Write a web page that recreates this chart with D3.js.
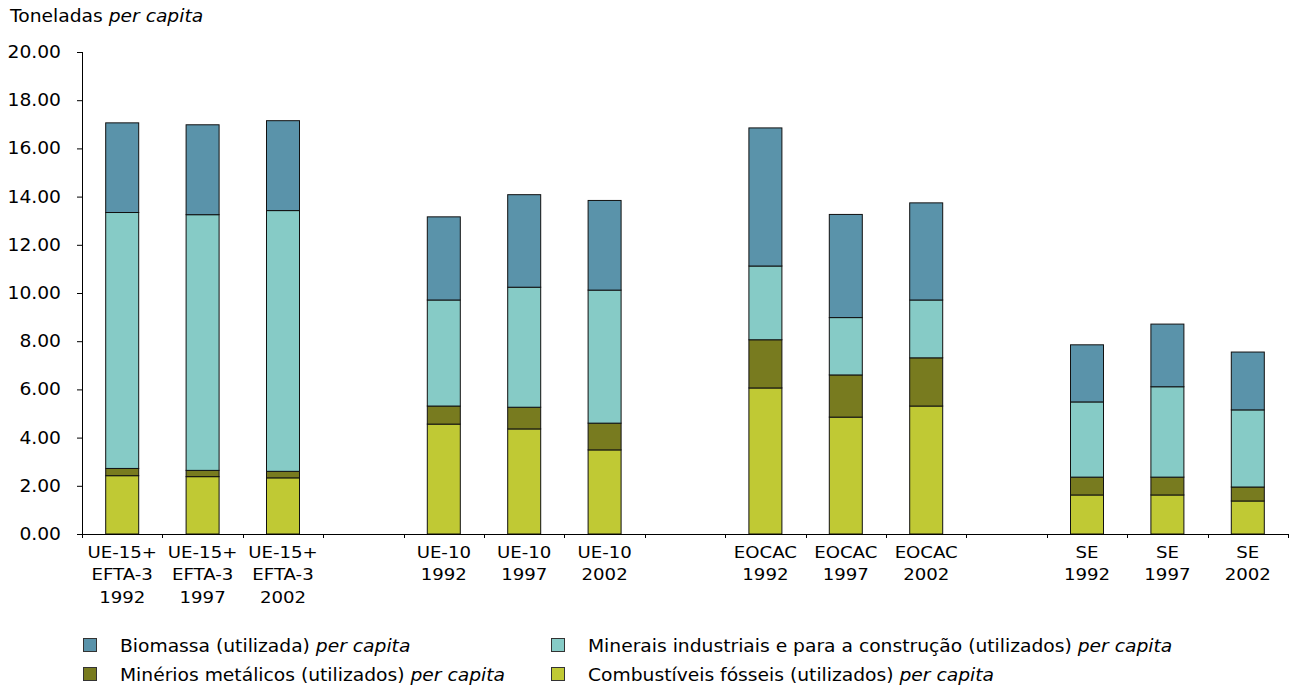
<!DOCTYPE html>
<html>
<head>
<meta charset="utf-8">
<script src="https://cdn.jsdelivr.net/npm/d3@7"></script>
<style>
  body { margin: 0; background: #fff; }
  svg text { font-family: "DejaVu Sans", Verdana, sans-serif; fill: #000; }
</style>
</head>
<body>
<svg id="chart" width="1293" height="690"></svg>
<script>
// Slots along the x axis; empty strings are spacer slots between regions
const categories = [
  "UE-15+|EFTA-3|1992", "UE-15+|EFTA-3|1997", "UE-15+|EFTA-3|2002", "",
  "UE-10|1992", "UE-10|1997", "UE-10|2002", "",
  "EOCAC|1992", "EOCAC|1997", "EOCAC|2002", "",
  "SE|1992", "SE|1997", "SE|2002"
];

// Tonnes per capita, one value per slot (null = spacer)
const fossil   = [2.42, 2.38, 2.33, null, 4.56, 4.36, 3.49, null, 6.06, 4.85, 5.31, null, 1.62, 1.62, 1.37];
const metal    = [0.30, 0.26, 0.27, null, 0.75, 0.90, 1.11, null, 2.00, 1.75, 2.00, null, 0.74, 0.74, 0.58];
const minerals = [10.62, 10.61, 10.82, null, 4.40, 4.98, 5.52, null, 3.06, 2.38, 2.40, null, 3.12, 3.75, 3.20];
const biomass  = [3.72, 3.73, 3.73, null, 3.45, 3.84, 3.72, null, 5.73, 4.28, 4.03, null, 2.37, 2.60, 2.40];

const yTicks = [0, 2, 4, 6, 8, 10, 12, 14, 16, 18, 20];

const seriesKeys = ["fossil", "metal", "minerals", "biomass"];
const seriesColors = {
  biomass: "#5A93AA",
  minerals: "#86CBC6",
  metal: "#787B1F",
  fossil: "#C0C934"
};

const rows = categories.map((c, i) => ({
  cat: String(i), label: c,
  fossil: fossil[i], metal: metal[i], minerals: minerals[i], biomass: biomass[i]
}));

const svg = d3.select("#chart");
const x0 = 82, x1 = 1288;
const yBase = 534, yTop = 52;
const SX = 1.1; // horizontal stretch of the lettering

const x = d3.scaleBand().domain(rows.map(r => r.cat)).range([x0, x1]).paddingInner(0).paddingOuter(0);
const y = d3.scaleLinear().domain([0, 20]).range([yBase, yTop]);

const barW = 33;

// Stretched text helper
function stretchedText(parent, tx, ty, size, anchor) {
  return parent.append("g")
    .attr("transform", `translate(${tx},${ty}) scale(${SX},1)`)
    .append("text")
    .attr("x", 0).attr("y", 0)
    .attr("font-size", size)
    .attr("text-anchor", anchor || "start");
}

const stack = d3.stack().keys(seriesKeys).value((d, k) => d[k] || 0);
const stacked = stack(rows.filter(r => r.fossil !== null));

svg.append("g")
  .selectAll("g.series")
  .data(stacked)
  .join("g")
  .attr("class", "series")
  .attr("fill", d => seriesColors[d.key])
  .selectAll("rect")
  .data(d => d)
  .join("rect")
  .attr("x", d => x(d.data.cat) + x.bandwidth() / 2 - barW / 2)
  .attr("width", barW)
  .attr("y", d => y(d[1]))
  .attr("height", d => y(d[0]) - y(d[1]))
  .attr("stroke", "#111")
  .attr("stroke-width", 1);

// Y axis
const yAxis = d3.axisLeft(y).tickValues(yTicks).tickFormat(d3.format(".2f")).tickSize(5).tickPadding(16);
const ya = svg.append("g").attr("transform", `translate(${x0},0)`).call(yAxis);
ya.select(".domain").attr("d", `M0.5,${yTop}V${yBase}`).attr("stroke", "#000");
ya.selectAll(".tick line").attr("stroke", "#000");
ya.selectAll(".tick text")
  .attr("font-size", 17)
  .attr("font-family", "DejaVu Sans, Verdana, sans-serif")
  .attr("fill", "#000")
  .attr("x", -21 / SX)
  .attr("transform", `scale(${SX},1)`);

// X axis: baseline with tick marks at slot boundaries
const xa = svg.append("g");
xa.append("line").attr("x1", x0).attr("x2", x1).attr("y1", yBase + 0.5).attr("y2", yBase + 0.5).attr("stroke", "#000");
const bounds = rows.map(r => x(r.cat)).concat([x1]);
xa.selectAll("line.tk").data(bounds).join("line").attr("class", "tk")
  .attr("x1", d => Math.round(d) + 0.5).attr("x2", d => Math.round(d) + 0.5)
  .attr("y1", yBase).attr("y2", yBase + 4).attr("stroke", "#000");

// Category labels (multi-line)
rows.forEach(r => {
  if (!r.label) return;
  const cx = x(r.cat) + x.bandwidth() / 2;
  r.label.split("|").forEach((ln, j) => {
    stretchedText(xa, cx, 558 + j * 22.3, 16.5, "middle").text(ln);
  });
});

// Axis title
const title = stretchedText(svg, 10, 22, 17, "start");
title.append("tspan").text("Toneladas ");
title.append("tspan").attr("font-style", "italic").text("per capita");

// Legend
const legendItems = [
  { key: "biomass", text: "Biomassa (utilizada) ", col: 0, row: 0 },
  { key: "minerals", text: "Minerais industriais e para a construção (utilizados) ", col: 1, row: 0 },
  { key: "metal", text: "Minérios metálicos (utilizados) ", col: 0, row: 1 },
  { key: "fossil", text: "Combustíveis fósseis (utilizados) ", col: 1, row: 1 }
];
const lg = svg.append("g");
legendItems.forEach(it => {
  const lx = it.col === 0 ? 83 : 551;
  const ly = it.row === 0 ? 638 : 667;
  lg.append("rect").attr("x", lx + 0.5).attr("y", ly + 0.5).attr("width", 13).attr("height", 13)
    .attr("fill", seriesColors[it.key]).attr("stroke", "#333").attr("stroke-width", 1);
  const t = stretchedText(lg, lx + 37, ly + 13.5, 17, "start");
  t.append("tspan").text(it.text);
  t.append("tspan").attr("font-style", "italic").text("per capita");
});
</script>
</body>
</html>
